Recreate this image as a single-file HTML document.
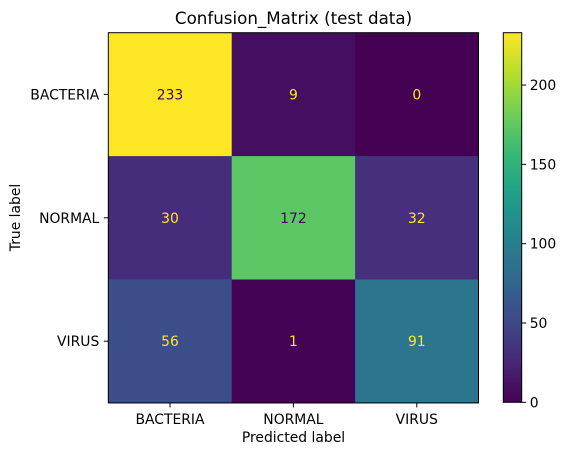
<!DOCTYPE html>
<html><head><meta charset="utf-8"><style>
body{margin:0;background:#fff;font-family:"Liberation Sans","DejaVu Sans",sans-serif;}
</style></head><body>
<svg id="chart" width="567" height="455" xmlns="http://www.w3.org/2000/svg" font-family="DejaVu Sans, Liberation Sans, sans-serif">
<defs><linearGradient id="vir" x1="0" y1="1" x2="0" y2="0"></linearGradient></defs>
<text x="293.5" y="24" font-size="16.7" text-anchor="middle">Confusion_Matrix (test data)</text>
<g id="cells"></g>
<g id="axes"></g>
<text x="293.5" y="442" font-size="13.9" text-anchor="middle">Predicted label</text>
<text transform="translate(20,217.5) rotate(-90)" font-size="13.9" text-anchor="middle">True label</text>
</svg>
<script>
const categories=["BACTERIA","NORMAL","VIRUS"];
const rowBacteria=[233,9,0];
const rowNormal=[30,172,32];
const rowVirus=[56,1,91];
const cbTicks=[0,50,100,150,200];
const matrix=[rowBacteria,rowNormal,rowVirus];
const vmin=0,vmax=233;
const L=108.3,T=32.7,S=370.2,n=3,cs=S/n;
const CB={x:503.3,w:18.4,top:32.7,bot:402.3};
const stops=["#440154","#482878","#3e4989","#31688e","#26828e","#1f9e89","#35b779","#6ece58","#b5de2b","#fde725"];
function hex(h){return [1,3,5].map(i=>parseInt(h.substr(i,2),16));}
function vir(t){t=Math.max(0,Math.min(1,t));const p=t*(stops.length-1),i=Math.min(Math.floor(p),stops.length-2),f=p-i;const a=hex(stops[i]),b=hex(stops[i+1]);return "rgb("+a.map((v,k)=>Math.round(v+(b[k]-v)*f)).join(",")+")";}
const xs=j=>L+cs*(j+0.5), ys=i=>T+cs*(i+0.5), cy=v=>CB.bot-(v-vmin)/(vmax-vmin)*(CB.bot-CB.top);
const NS="http://www.w3.org/2000/svg";
function mk(t,a,p){const e=document.createElementNS(NS,t);for(const k in a)e.setAttribute(k,a[k]);(p||document.getElementById("chart")).appendChild(e);return e;}
const g=document.getElementById("cells"),ax=document.getElementById("axes");
const grad=document.getElementById("vir");
stops.forEach((c,i)=>mk("stop",{offset:(i/(stops.length-1)*100)+"%","stop-color":c},grad));
matrix.forEach((row,i)=>row.forEach((v,j)=>{
 const t=(v-vmin)/(vmax-vmin);
 const r=mk("rect",{x:L+cs*j,y:T+cs*i,width:cs+0.5,height:cs+0.5,fill:vir(t)},g);
 
 
 const tx=mk("text",{x:xs(j),y:ys(i)+5,"font-size":13.9,"text-anchor":"middle",fill:t>0.5?"#440154":"#fde725"},g);
 tx.textContent=v;
 
 
}));
mk("rect",{x:L,y:T,width:S,height:S,fill:"none",stroke:"#000","stroke-width":1},ax);
categories.forEach((c,k)=>{
 mk("line",{x1:xs(k),x2:xs(k),y1:T+S,y2:T+S+4.5,stroke:"#000"},ax);
 const a=mk("text",{x:xs(k),y:T+S+21,"font-size":13.9,"text-anchor":"middle"},ax);a.textContent=c;
 
 
 mk("line",{x1:L-4.5,x2:L,y1:ys(k),y2:ys(k),stroke:"#000"},ax);
 const b=mk("text",{x:L-9,y:ys(k)+5,"font-size":13.9,"text-anchor":"end"},ax);b.textContent=c;
 
 
});
const cb=mk("rect",{x:CB.x,y:CB.top,width:CB.w,height:CB.bot-CB.top,fill:"url(#vir)",stroke:"#000","stroke-width":1},ax);


cbTicks.forEach(v=>{
 mk("line",{x1:CB.x+CB.w,x2:CB.x+CB.w+4.5,y1:cy(v),y2:cy(v),stroke:"#000"},ax);
 const t=mk("text",{x:CB.x+CB.w+8,y:cy(v)+5,"font-size":13.9},ax);t.textContent=v;
 
 
});
</script>
</body></html>
